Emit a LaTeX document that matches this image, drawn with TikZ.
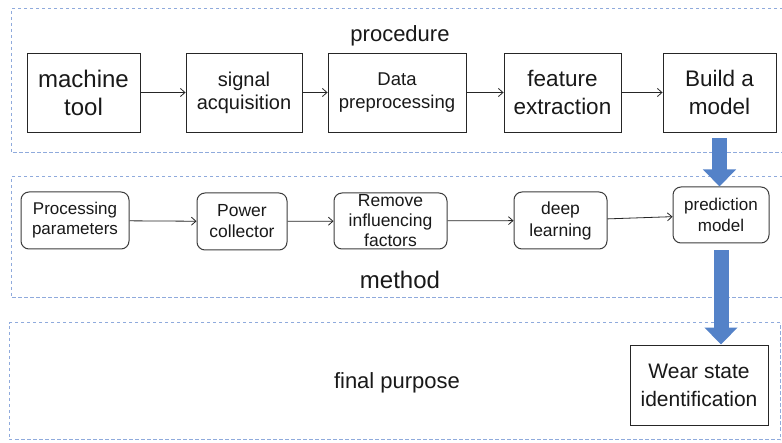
\documentclass[tikz,border=0pt]{standalone}
\usepackage{fontspec}
\setmainfont{Liberation Sans}
\usetikzlibrary{arrows.meta}
\definecolor{panelblue}{RGB}{143,170,220}
\definecolor{arrowblue}{RGB}{84,130,200}
\definecolor{boxgray}{RGB}{60,60,60}
\tikzset{
  panel/.style={draw=panelblue, line width=1pt, dash pattern=on 3.5pt off 2.5pt},
  sqbox/.style={draw=black!85, line width=0.9pt, inner sep=0pt, align=center, text=black!90},
  rbox/.style={draw=boxgray, line width=1pt, rounded corners=8pt, inner sep=0pt, align=center, text=black!90},
  thinarrow/.style={draw=black!85, line width=0.8pt, -{Straight Barb[length=4.5pt,width=8pt]}},
  bigarrow/.style={draw=arrowblue, line width=15pt, -{Triangle[length=17pt,width=32pt]}},
  lbl/.style={inner sep=0pt, text=black!90}
}
\begin{document}
\begin{tikzpicture}[x=1pt,y=-1pt]
\clip (0,0) rectangle (782,443);
\fill[white] (0,0) rectangle (782,443);
% panels
\draw[panel] (795,9) -- (11,9) -- (11,153) -- (795,153);
\draw[panel] (795,177) -- (11,177) -- (11,298) -- (795,298);
\draw[panel] (780,323) -- (9,323) -- (9,440) -- (780,440) -- cycle;
% panel titles
\node[lbl, font=\fontsize{22}{26}\selectfont] (tproc) at (400,36) {procedure};
\node[lbl, font=\fontsize{24}{28}\selectfont] (tmeth) at (400,280) {method};
\node[lbl, font=\fontsize{22}{26}\selectfont] (tfin) at (397,383) {final purpose};
% procedure row
\node[sqbox, minimum width=113pt, minimum height=79pt, font=\fontsize{24}{28}\selectfont] (mt) at (83.5,92.5) {machine\\tool};
\node[sqbox, minimum width=116pt, minimum height=79pt, font=\fontsize{20}{23}\selectfont] (sa) at (244,92.5) {signal\\acquisition};
\node[sqbox, minimum width=138pt, minimum height=79pt, font=\fontsize{18.5}{23}\selectfont] (dp) at (397,92.5) {Data\\preprocessing};
\node[sqbox, minimum width=117pt, minimum height=79pt, font=\fontsize{22.5}{28}\selectfont] (fe) at (562.5,92.5) {feature\\extraction};
\node[sqbox, minimum width=113pt, minimum height=79pt, font=\fontsize{22.5}{28}\selectfont] (bm) at (719.5,92.5) {Build a\\model};
\draw[thinarrow] (mt) -- (sa);
\draw[thinarrow] (sa) -- (dp);
\draw[thinarrow] (dp) -- (fe);
\draw[thinarrow] (fe) -- (bm);
% method row
\node[rbox, minimum width=108pt, minimum height=57pt, font=\fontsize{17}{20}\selectfont] (pp) at (75,220.5) {Processing\\parameters};
\node[rbox, minimum width=90pt, minimum height=57pt, font=\fontsize{17.5}{21}\selectfont] (pc) at (242,221.5) {Power\\collector};
\node[rbox, minimum width=113pt, minimum height=56pt, font=\fontsize{17.5}{20}\selectfont] (rf) at (390.5,221) {Remove\\influencing\\factors};
\node[rbox, minimum width=93pt, minimum height=57pt, font=\fontsize{17.5}{22}\selectfont] (dl) at (560.5,220.5) {deep\\learning};
\node[rbox, minimum width=96pt, minimum height=56pt, font=\fontsize{17}{21}\selectfont] (pm) at (721,215) {prediction\\model};
\draw[thinarrow] (pp) -- (pc);
\draw[thinarrow] (pc) -- (rf);
\draw[thinarrow] (rf) -- (dl);
\draw[thinarrow] (dl) -- (pm);
% final
\node[sqbox, minimum width=138pt, minimum height=80pt, font=\fontsize{21}{28}\selectfont] (ws) at (699,385) {Wear state\\identification};
% big arrows
\draw[bigarrow, shorten <=6pt] (bm.south) -- (bm.south |- pm.north);
\draw[bigarrow, shorten <=7pt] (pm.south) -- (pm.south |- ws.north);
\end{tikzpicture}
\end{document}
